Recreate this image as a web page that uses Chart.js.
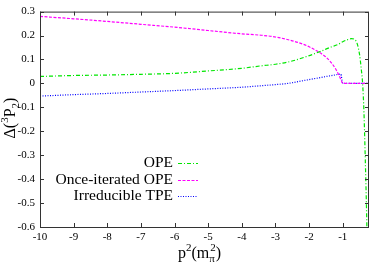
<!DOCTYPE html>
<html>
<head>
<meta charset="utf-8">
<script src="https://cdn.jsdelivr.net/npm/chart.js@4.4.1/dist/chart.umd.min.js"></script>
<style>
  html, body { margin: 0; padding: 0; background: #fff; }
  #wrap { width: 382px; height: 267px; }
</style>
</head>
<body>
<div id="wrap"><canvas id="grafico" width="382" height="267"></canvas></div>
<script>
// p^2 em unidades de m_pi^2
const opeX = [-10, -9, -8, -7, -6, -5, -4, -3.45, -3, -2.63, -2.04, -1.64, -1.35, -1.15, -1, -0.85, -0.74, -0.6, -0.5, -0.45, -0.41, -0.37, -0.33, -0.29, -0.27];
const opeY = [0.029, 0.033, 0.035, 0.038, 0.042, 0.052, 0.063, 0.073, 0.08, 0.089, 0.114, 0.135, 0.152, 0.162, 0.174, 0.183, 0.187, 0.176, 0.12, 0.06, 0.0, -0.12, -0.32, -0.55, -0.7];

const iterX = [-10, -9, -8, -7, -6, -5, -4, -3.5, -3, -2.5, -2.2, -2, -1.75, -1.5, -1.35, -1.2, -1.1, -1.03, -1.0, -0.22];
const iterY = [0.280, 0.270, 0.259, 0.247, 0.235, 0.221, 0.207, 0.202, 0.194, 0.178, 0.165, 0.153, 0.134, 0.110, 0.088, 0.058, 0.030, 0.008, 0.0, 0.0];

const tpeX = [-10, -9, -8, -7, -6, -5, -4, -3.45, -3, -2.63, -2.04, -1.64, -1.2, -1.06, -1.0, -0.22];
const tpeY = [-0.053, -0.047, -0.042, -0.036, -0.030, -0.023, -0.016, -0.010, -0.005, 0.0, 0.015, 0.025, 0.036, 0.039, 0.0, 0.0];

const xTicks = [-10, -9, -8, -7, -6, -5, -4, -3, -2, -1];
const yTicks = [0.3, 0.2, 0.1, 0, -0.1, -0.2, -0.3, -0.4, -0.5, -0.6];

const series = [
  { label: 'OPE', x: opeX, y: opeY, color: '#00e600', dash: [4, 2, 1, 2] },
  { label: 'Once-iterated OPE', x: iterX, y: iterY, color: '#ff00ff', dash: [3, 1.5] },
  { label: 'Irreducible TPE', x: tpeX, y: tpeY, color: '#0000ff', dash: [1, 1.5] }
];

const SERIF = '"Liberation Serif", "DejaVu Serif", serif';

// moldura, ticks para dentro, legenda e títulos
const molduraPlugin = {
  id: 'moldura',
  afterDraw(chart) {
    const ctx = chart.ctx;
    const a = chart.chartArea;
    const sx = chart.scales.x, sy = chart.scales.y;
    ctx.save();
    ctx.strokeStyle = '#333';
    ctx.lineWidth = 1;
    ctx.setLineDash([]);
    ctx.strokeRect(a.left + 0.5, a.top + 0.5, a.right - a.left - 1, a.bottom - a.top);
    ctx.beginPath();
    xTicks.forEach(t => {
      const px = Math.round(sx.getPixelForValue(t)) + 0.5;
      ctx.moveTo(px, a.bottom); ctx.lineTo(px, a.bottom - 4);
      ctx.moveTo(px, a.top); ctx.lineTo(px, a.top + 4);
    });
    yTicks.forEach(t => {
      const py = Math.round(sy.getPixelForValue(t)) + 0.5;
      ctx.moveTo(a.left, py); ctx.lineTo(a.left + 4, py);
      ctx.moveTo(a.right, py); ctx.lineTo(a.right - 4, py);
    });
    ctx.stroke();

    // legenda
    ctx.font = '15.5px ' + SERIF;
    ctx.fillStyle = '#000';
    ctx.textAlign = 'right';
    ctx.textBaseline = 'middle';
    const linhas = [163, 180, 196];
    series.forEach((s, i) => {
      ctx.fillText(s.label, 173, linhas[i]);
      ctx.strokeStyle = s.color;
      ctx.setLineDash(s.dash);
      ctx.beginPath();
      ctx.moveTo(178, linhas[i] + 0.5);
      ctx.lineTo(198, linhas[i] + 0.5);
      ctx.stroke();
    });
    ctx.setLineDash([]);

    // título eixo x: p²(mπ²)
    ctx.textAlign = 'left';
    ctx.textBaseline = 'alphabetic';
    ctx.font = '16px ' + SERIF;
    let x = 178;
    const base = 258;
    ctx.fillText('p', x, base); x += ctx.measureText('p').width;
    ctx.font = '11px ' + SERIF;
    ctx.fillText('2', x, base - 7); x += ctx.measureText('2').width;
    ctx.font = '16px ' + SERIF;
    ctx.fillText('(m', x, base); x += ctx.measureText('(m').width;
    ctx.font = '11px ' + SERIF;
    ctx.fillText('π', x, base + 4);
    ctx.fillText('2', x + 1, base - 7); x += ctx.measureText('π').width + 1;
    ctx.font = '16px ' + SERIF;
    ctx.fillText(')', x, base);

    // título eixo y: Δ(³P₂)
    ctx.translate(15, 118);
    ctx.rotate(-Math.PI / 2);
    const partes = [['Δ(', 16, 0], ['3', 11, -7], ['P', 16, 0], ['2', 11, 4], [')', 16, 0]];
    let w = 0;
    partes.forEach(p => { ctx.font = p[1] + 'px ' + SERIF; w += ctx.measureText(p[0]).width; });
    let yx = -w / 2;
    partes.forEach(p => {
      ctx.font = p[1] + 'px ' + SERIF;
      ctx.fillText(p[0], yx, p[2]);
      yx += ctx.measureText(p[0]).width;
    });
    ctx.restore();
  }
};

new Chart(document.getElementById('grafico'), {
  type: 'line',
  data: {
    datasets: series.map(s => ({
      label: s.label,
      data: s.x.map((v, i) => ({ x: v, y: s.y[i] })),
      borderColor: s.color,
      borderWidth: 1.2,
      borderDash: s.dash,
      pointRadius: 0,
      cubicInterpolationMode: 'monotone',
      fill: false
    }))
  },
  options: {
    responsive: false,
    animation: false,
    layout: { padding: { top: 8, right: 13, left: 0, bottom: 0 } },
    plugins: { legend: { display: false }, tooltip: { enabled: false } },
    scales: {
      x: {
        type: 'linear',
        min: -10,
        max: -0.22,
        afterBuildTicks: s => { s.ticks = xTicks.map(v => ({ value: v })); },
        afterFit: s => { s.height = 40; },
        grid: { display: false, drawTicks: false },
        border: { display: false },
        ticks: {
          padding: 4,
          maxRotation: 0,
          autoSkip: false,
          font: { family: SERIF, size: 11 },
          color: '#000',
          callback: v => String(v)
        }
      },
      y: {
        min: -0.6,
        max: 0.3,
        afterBuildTicks: s => { s.ticks = yTicks.map(v => ({ value: v })); },
        afterFit: s => { s.width = 40; },
        grid: { display: false, drawTicks: false },
        border: { display: false },
        ticks: {
          padding: 5,
          autoSkip: false,
          font: { family: SERIF, size: 11 },
          color: '#000',
          callback: v => String(Math.round(v * 10) / 10)
        }
      }
    }
  },
  plugins: [molduraPlugin]
});
</script>
</body>
</html>
